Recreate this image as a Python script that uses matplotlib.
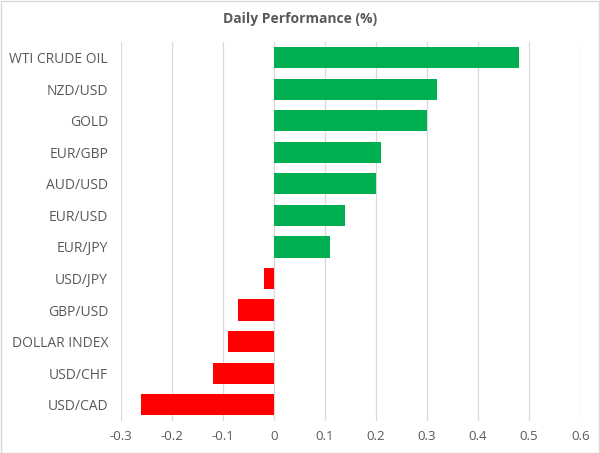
import matplotlib
matplotlib.use('Agg')
import matplotlib.pyplot as plt
from matplotlib.patches import Rectangle

# Daily performance, top to bottom as shown
labels = ['WTI CRUDE OIL', 'NZD/USD', 'GOLD', 'EUR/GBP', 'AUD/USD', 'EUR/USD',
          'EUR/JPY', 'USD/JPY', 'GBP/USD', 'DOLLAR INDEX', 'USD/CHF', 'USD/CAD']
values = [0.48, 0.32, 0.30, 0.21, 0.20, 0.14, 0.11, -0.02, -0.07, -0.09, -0.12, -0.26]
xticks = [-0.3, -0.2, -0.1, 0, 0.1, 0.2, 0.3, 0.4, 0.5, 0.6]
xtick_labels = ['-0.3', '-0.2', '-0.1', '0', '0.1', '0.2', '0.3', '0.4', '0.5', '0.6']

GREEN = '#00B050'
RED = '#FF0000'
TEXT = '#595959'

plt.rcParams['font.family'] = ['Open Sans', 'DejaVu Sans']

fig = plt.figure(figsize=(6, 4.53), dpi=100)
ax = fig.add_axes([0.201, 0.0717, 0.766, 0.836])

colors = [GREEN if v >= 0 else RED for v in values]
pos = list(range(len(labels)))
ax.barh(pos, values, height=0.67, color=colors, zorder=3)

ax.set_ylim(len(labels) - 0.5, -0.5)
ax.set_xlim(-0.3, 0.6)
ax.set_yticks(pos)
ax.set_yticklabels(labels, fontsize=10, color=TEXT)
ax.set_xticks(xticks)
ax.set_xticklabels(xtick_labels, fontsize=9.5, color=TEXT)
ax.tick_params(length=0)
ax.tick_params(axis='y', pad=9)
ax.tick_params(axis='x', pad=7)
ax.grid(axis='x', color='#D9D9D9', linewidth=0.9, zorder=0)
for s in ax.spines.values():
    s.set_visible(False)

fig.text(0.5, 0.958, 'Daily Performance (%)', ha='center', va='center',
         fontsize=10, fontweight='bold', color=TEXT)

# light border round the chart
fig.patches.append(Rectangle((0.001, 0.001), 0.998, 0.997, transform=fig.transFigure,
                             fill=False, edgecolor='#D9D9D9', linewidth=1))

fig.savefig('out.png', dpi=100)
